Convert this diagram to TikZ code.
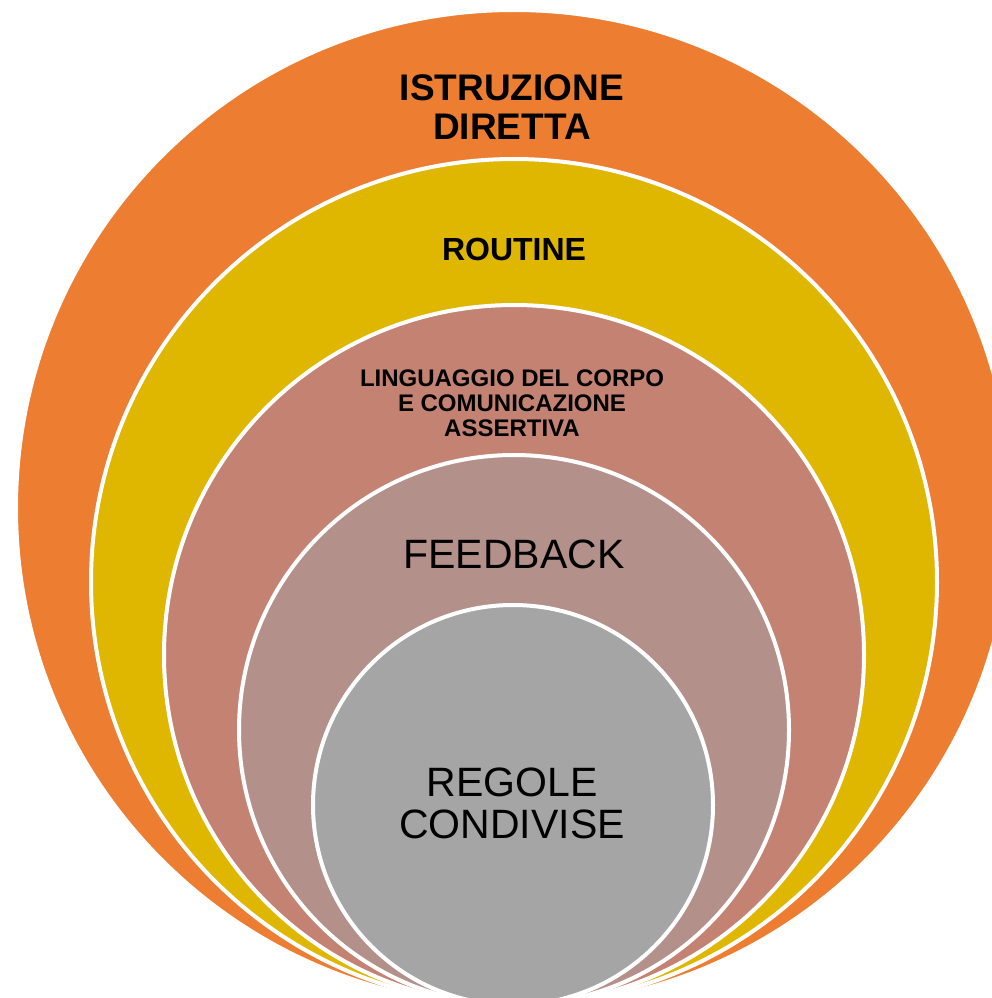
\documentclass[tikz,border=0pt]{standalone}
\usepackage{fontspec}
\setmainfont{Liberation Sans}
\usepackage{tikz}

\definecolor{arancio}{HTML}{ED7D31}
\definecolor{giallo}{HTML}{DFB700}
\definecolor{salmone}{HTML}{C48272}
\definecolor{malva}{HTML}{B4908A}
\definecolor{grigio}{HTML}{A5A5A5}

\begin{document}
\begin{tikzpicture}[x=1pt, y=-1pt,
  cerchio/.style={circle, draw=white, line width=4pt, inner sep=0pt},
  testo/.style={inner sep=0pt, align=center, text=black}]

\useasboundingbox (0,0) rectangle (992,998);
\clip (0,0) rectangle (992,998);

% Cerchi, dal piu grande al piu piccolo
\node[cerchio, fill=arancio, minimum size=996pt] (istruzione) at (514,508) {};
\node[cerchio, fill=giallo, minimum size=846pt] (routine) at (514,582) {};
\node[cerchio, fill=salmone, minimum size=700pt] (linguaggio) at (514,655) {};
\node[cerchio, fill=malva, minimum size=550pt] (feedback) at (514,730) {};
\node[cerchio, fill=grigio, minimum size=400pt] (regole) at (513,805) {};

% Etichette
\node[testo, font=\bfseries\fontsize{37}{39.5}\selectfont] (t-istruzione) at (512,107) {ISTRUZIONE\\DIRETTA};
\node[testo, font=\bfseries\fontsize{32}{36}\selectfont] (t-routine) at (514,249) {ROUTINE};
\node[testo, font=\bfseries\fontsize{24}{25}\selectfont] (t-linguaggio) at (512,403) {LINGUAGGIO DEL CORPO\\E COMUNICAZIONE\\ASSERTIVA};
\node[testo, font=\fontsize{41}{44}\selectfont] (t-feedback) at (514,554) {FEEDBACK};
\node[testo, font=\fontsize{41}{42}\selectfont] (t-regole) at (512,803) {REGOLE\\CONDIVISE};

\end{tikzpicture}
\end{document}
